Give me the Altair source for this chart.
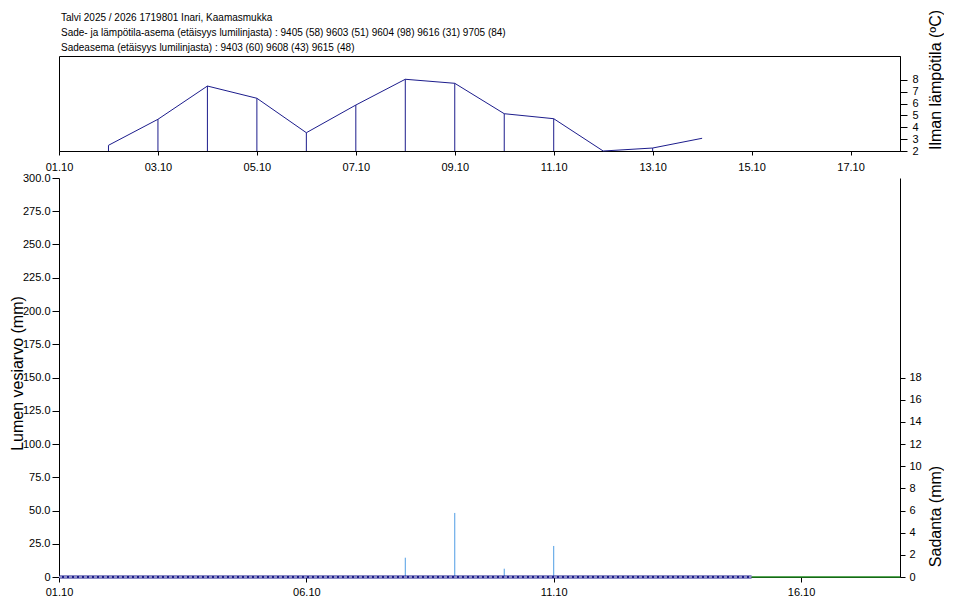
import altair as alt
import pandas as pd

FONT = "Liberation Sans"
NAVY = "#1c1c8c"
LIGHT_BLUE = "#4f9de4"
GREEN = "#1f8a1f"

title_lines = [
    "Talvi 2025 / 2026 1719801 Inari, Kaamasmukka",
    "Sade- ja lämpötila-asema (etäisyys lumilinjasta) :  9405 (58) 9603 (51) 9604 (98) 9616 (31) 9705 (84)",
    "Sadeasema (etäisyys lumilinjasta) :  9403 (60) 9608 (43) 9615 (48)",
]

# day of October
temp_days = [2, 3, 4, 5, 6, 7, 8, 9, 10, 11, 12, 13, 14]
temp_values = [2.48, 4.67, 7.47, 6.44, 3.54, 5.87, 8.04, 7.70, 5.14, 4.72, 2.0, 2.25, 3.07]
temp_drop = [True, True, True, True, True, True, True, True, True, True, True, True, False]

swe_days = [1, 2, 3, 4, 5, 6, 7, 8, 9, 10, 11, 12, 13, 14, 15]
swe_values = [0.0, 0.0, 0.0, 0.0, 0.0, 0.0, 0.0, 0.0, 0.0, 0.0, 0.0, 0.0, 0.0, 0.0, 0.0]

ref_days = [15, 16, 17, 18]
ref_values = [0.0, 0.0, 0.0, 0.0]

prec_days = [7, 8, 9, 10, 11]
prec_values = [0.1, 1.74, 5.78, 0.75, 2.8]

x_top_ticks = [1, 3, 5, 7, 9, 11, 13, 15, 17]
x_bottom_ticks = [1, 6, 11, 16]
temp_ticks = [2, 3, 4, 5, 6, 7, 8]
swe_ticks = [0, 25, 50, 75, 100, 125, 150, 175, 200, 225, 250, 275, 300]
prec_ticks = [0, 2, 4, 6, 8, 10, 12, 14, 16, 18]

temp_df = pd.DataFrame({"day": temp_days, "temp": temp_values, "drop": temp_drop})
temp_df["base"] = 2.0
swe_df = pd.DataFrame({"day": swe_days, "swe": swe_values})
ref_df = pd.DataFrame({"day": ref_days, "swe": ref_values})
prec_df = pd.DataFrame({"day": prec_days, "prec": prec_values})
prec_df["zero"] = 0.0

X_LABEL = "(datum.value < 10 ? '0' : '') + datum.value + '.10'"
x_scale = alt.Scale(domain=[1, 18], nice=False, zero=False)


def x_enc(ticks, tick_size, pad):
    return alt.X(
        "day:Q",
        scale=x_scale,
        axis=alt.Axis(
            values=ticks, labelExpr=X_LABEL, title=None, grid=False,
            tickSize=tick_size, labelPadding=pad, labelFlush=False,
            labelOverlap=False,
        ),
    )


# ---------------- top panel: temperature ----------------
temp_y = alt.Y(
    "temp:Q",
    scale=alt.Scale(domain=[2, 10], nice=False, zero=False),
    axis=alt.Axis(
        orient="right", values=temp_ticks, tickSize=7, labelPadding=5, grid=False,
        title="Ilman lämpötila (ºC)", titleAngle=270, titleX=40, titleY=23.5,
        titleAlign="center", titleBaseline="alphabetic",
    ),
)
xt = x_enc(x_top_ticks, 4, 6)

temp_drops = alt.Chart(temp_df).transform_filter("datum.drop").mark_rule(
    color=NAVY, strokeWidth=1
).encode(x=xt, y=temp_y, y2="base:Q")
temp_line = alt.Chart(temp_df).mark_line(color=NAVY, strokeWidth=1).encode(x=xt, y=temp_y)

top = alt.layer(temp_drops, temp_line).properties(
    width=841, height=95,
    view=alt.ViewBackground(stroke="black", strokeWidth=1),
    title=alt.TitleParams(
        text=title_lines, anchor="start", frame="group", orient="top",
        baseline="bottom", offset=-54, dx=2, lineHeight=15,
        fontSize=10, font=FONT, fontWeight="normal", color="black",
    ),
)

# ---------------- bottom panel: snow water equivalent + precipitation ----------------
xb = x_enc(x_bottom_ticks, 5, 4)


def swe_y():
    return alt.Y(
        "swe:Q",
        scale=alt.Scale(domain=[0, 300], nice=False, zero=False),
        axis=alt.Axis(
            orient="left", values=swe_ticks, tickSize=7, labelPadding=2, grid=False,
            labelExpr="datum.value == 0 ? '0' : format(datum.value, '.1f')",
            title="Lumen vesiarvo (mm)", titleAngle=270, titleX=-37, titleY=195,
            titleAlign="center", titleBaseline="alphabetic",
        ),
    )


prec_y = alt.Y(
    "prec:Q",
    scale=alt.Scale(domain=[0, 36], nice=False, zero=False),
    axis=alt.Axis(
        orient="right", values=prec_ticks, tickSize=5, labelPadding=4, grid=False,
        title="Sadanta (mm)", titleAngle=270, titleX=40, titleY=338,
        titleAlign="center", titleBaseline="alphabetic",
    ),
)

prec_rules = alt.Chart(prec_df).mark_rule(color=LIGHT_BLUE, strokeWidth=1).encode(
    x=xb, y=prec_y, y2="zero:Q"
)
swe_main = alt.Chart(swe_df).mark_line(color=NAVY, strokeWidth=3).encode(x=xb, y=swe_y())
swe_dash = alt.Chart(swe_df).mark_line(color="white", strokeWidth=1, strokeDash=[3, 2]).encode(
    x=xb, y=swe_y()
)
ref_line = alt.Chart(ref_df).mark_line(color=GREEN, strokeWidth=1.5).encode(x=xb, y=swe_y())

swe_layer = alt.layer(swe_main, swe_dash, ref_line)

bottom = alt.layer(prec_rules, swe_layer).resolve_scale(y="independent").properties(
    width=841, height=399,
    view=alt.ViewBackground(stroke="transparent"),
)

chart = (
    alt.vconcat(top, bottom, spacing=27, bounds="flush")
    .resolve_scale(x="independent")
    .properties(padding={"left": 0, "top": 0, "right": 0, "bottom": 0}, background="white")
    .configure_axis(
        labelFont=FONT, titleFont=FONT, labelFontSize=11, titleFontSize=16,
        titleFontWeight="normal", domainColor="black", tickColor="black",
        labelColor="black", titleColor="black", domainWidth=1, tickWidth=1,
    )
)

chart.save("out.html", embed_options={"renderer": "svg", "actions": False})
